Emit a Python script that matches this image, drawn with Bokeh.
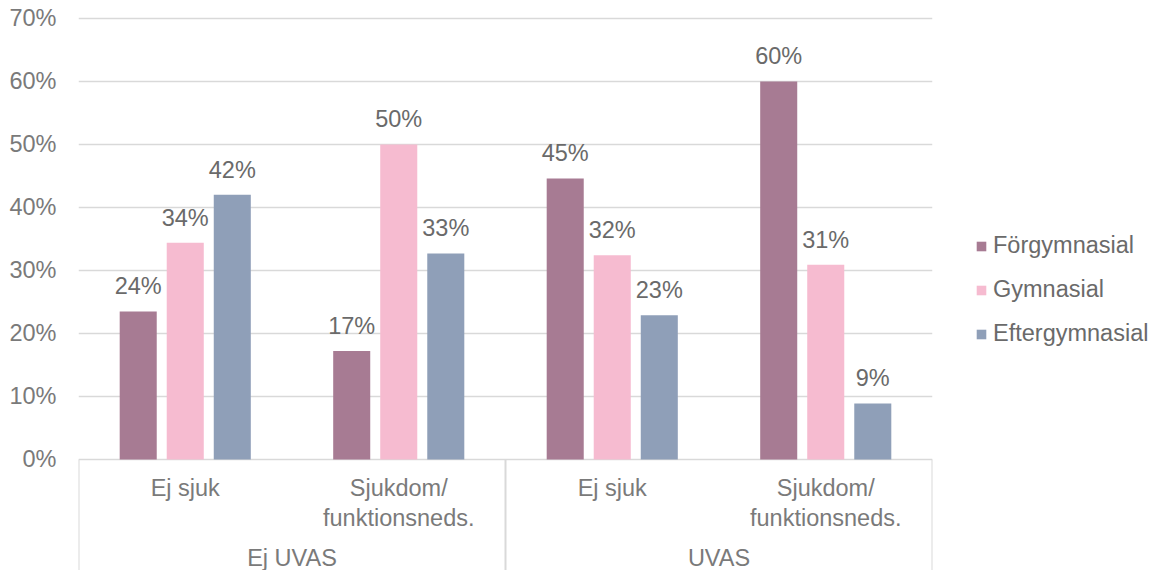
from bokeh.plotting import figure
from bokeh.models import Range1d, FixedTicker, PrintfTickFormatter, Legend, LegendItem
from bokeh.core.properties import value
from bokeh.embed import file_html
from bokeh.resources import INLINE

# ---- data ----
groups = ["Ej UVAS", "UVAS"]
subcategories = ["Ej sjuk", "Sjukdom/\nfunktionsneds."]
series_names = ["Förgymnasial", "Gymnasial", "Eftergymnasial"]
forgymnasial = [23.5, 17.2, 44.6, 60.0]
gymnasial = [34.4, 50.0, 32.4, 30.9]
eftergymnasial = [42.0, 32.7, 22.9, 8.9]
y_ticks = [0, 10, 20, 30, 40, 50, 60, 70]

# ---- style ----
colors = ["#A77B93", "#F6BBD0", "#8F9FB8"]
FONT = "Liberation Sans"
FS = "23.5px"
axis_color = "#7a7a7a"
label_color = "#6a6a6a"
grid_color = "#d9d9d9"

px_per_unit = 441 / 70.0
y_bottom = -(111 / px_per_unit)

n_cat = len(groups) * len(subcategories)
cat_x = [i + 0.5 for i in range(n_cat)]
sub_labels = subcategories * len(groups)
group_x = [len(subcategories) * (g + 0.5) for g in range(len(groups))]
sep_x = [len(subcategories) * g for g in range(len(groups) + 1)]

p = figure(frame_width=854, frame_height=554, x_range=Range1d(0, n_cat), y_range=Range1d(y_bottom, 70.3),
           output_backend="svg", toolbar_location=None, x_axis_location=None,
           min_border_left=78, min_border_right=0, min_border_top=16, min_border_bottom=0)
p.outline_line_color = None
p.background_fill_color = "white"
p.border_fill_color = "white"
p.xgrid.visible = False
p.ygrid.ticker = FixedTicker(ticks=y_ticks)
p.ygrid.grid_line_color = grid_color
p.ygrid.grid_line_width = 1.4

ax = p.yaxis[0]
ax.ticker = FixedTicker(ticks=y_ticks)
ax.formatter = PrintfTickFormatter(format="%d%%")
ax.axis_line_color = None
ax.major_tick_line_color = None
ax.minor_tick_line_color = None
ax.major_tick_out = 0
ax.major_tick_in = 0
ax.major_label_standoff = 22
ax.major_label_text_font = FONT
ax.major_label_text_font_size = FS
ax.major_label_text_color = axis_color

series = [forgymnasial, gymnasial, eftergymnasial]
step = 0.2203
bar_w = 0.1735
items = []
for k, (name, vals, col) in enumerate(zip(series_names, series, colors)):
    xs = [c + (k - 1) * step for c in cat_x]
    r = p.vbar(x=xs, top=vals, bottom=0, width=bar_w, fill_color=col, line_color=None)
    items.append(LegendItem(label=name, renderers=[r]))
    p.text(x=xs, y=[v + 25 / px_per_unit for v in vals], text=[f"{round(v)}%" for v in vals],
           text_align="center", text_baseline="alphabetic", text_font=value(FONT),
           text_font_size=FS, text_color=label_color)

# category axis (two levels)
p.segment(x0=sep_x, y0=[0] * len(sep_x), x1=sep_x, y1=[y_bottom] * len(sep_x),
          line_color=grid_color, line_width=2)
p.text(x=cat_x, y=[-16 / px_per_unit] * n_cat, text=sub_labels, text_align="center",
       text_baseline="top", text_font=value(FONT), text_font_size=FS, text_color=axis_color,
       text_line_height=1.15)
p.text(x=group_x, y=[-86 / px_per_unit] * len(groups), text=groups, text_align="center",
       text_baseline="top", text_font=value(FONT), text_font_size=FS, text_color=axis_color)

legend = Legend(items=items, location=(43, 223))
legend.border_line_color = None
legend.background_fill_alpha = 0
legend.padding = 0
legend.margin = 0
legend.glyph_width = 12
legend.glyph_height = 12
legend.label_standoff = 6
legend.spacing = 17
legend.label_height = 27
legend.label_text_font = FONT
legend.label_text_font_size = FS
legend.label_text_color = label_color
p.add_layout(legend, "right")

open("out.html", "w").write(file_html(p, INLINE))
